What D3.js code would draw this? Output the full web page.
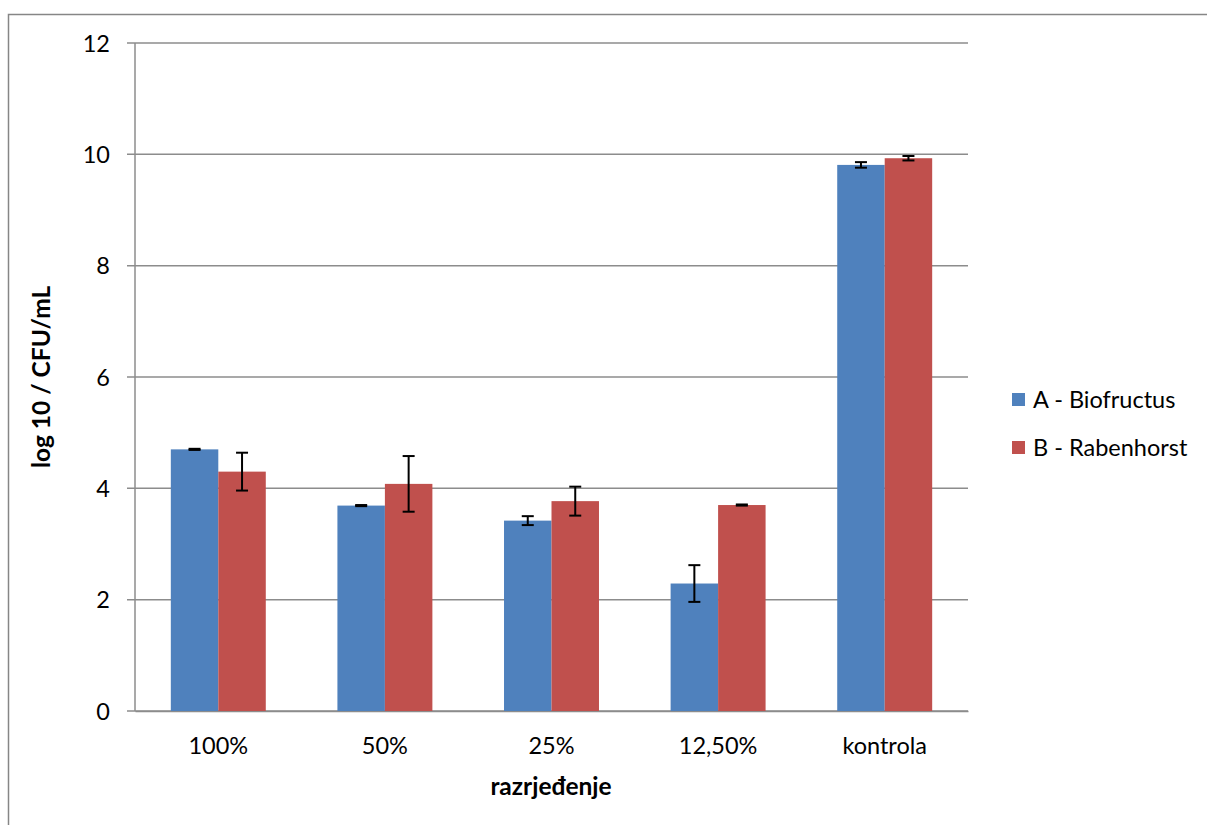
<!DOCTYPE html>
<html><head><meta charset="utf-8">
<script src="https://cdn.jsdelivr.net/npm/d3@7"></script>
<style>body{margin:0;background:#fff}svg{display:block}text{font-family:Lato,"Open Sans",sans-serif;fill:#000}</style>
</head><body><svg id="c" width="1207" height="825"></svg>
<script>
const categories = ["100%", "50%", "25%", "12,50%", "kontrola"];
const seriesNames = ["A - Biofructus", "B - Rabenhorst"];
const valuesA = [4.70, 3.69, 3.42, 2.29, 9.81];
const errorsA = [0.01, 0.01, 0.08, 0.33, 0.05];
const valuesB = [4.30, 4.08, 3.77, 3.70, 9.93];
const errorsB = [0.34, 0.50, 0.26, 0.01, 0.04];
const yTicks = [0, 2, 4, 6, 8, 10, 12];
const colors = ["#4F81BD", "#C0504D"];
const FS = 23.5;

const svg = d3.select("#c");
svg.append("rect").attr("x", 8.5).attr("y", 14.5).attr("width", 1210).attr("height", 830)
  .attr("fill", "none").attr("stroke", "#868686").attr("stroke-width", 1.5);

const L = 135, R = 968, T = 43, B = 711;
const x = d3.scaleBand().domain(categories).range([L, R]).paddingInner(0.43).paddingOuter(0.215);
const xs = d3.scaleBand().domain([0, 1]).range([0, x.bandwidth()]);
const y = d3.scaleLinear().domain([0, 12]).range([B, T]);

svg.append("g").selectAll("line").data(yTicks).join("line")
  .attr("x1", L - 8).attr("x2", R).attr("y1", d => y(d)).attr("y2", d => y(d))
  .attr("stroke", "#8c8c8c").attr("stroke-width", 1.5);
svg.append("line").attr("x1", L).attr("x2", L).attr("y1", T).attr("y2", B)
  .attr("stroke", "#8c8c8c").attr("stroke-width", 1.5);

const yAxis = d3.axisLeft(y).tickValues(yTicks).tickSize(0).tickPadding(25);
const gy = svg.append("g").attr("transform", `translate(${L},0)`).call(yAxis);
gy.select(".domain").remove();
gy.selectAll("text").attr("font-size", FS).attr("font-family", "Lato, sans-serif").attr("dy", "0.35em");

const xAxis = d3.axisBottom(x).tickSize(0).tickPadding(26);
const gx = svg.append("g").attr("transform", `translate(0,${B})`).call(xAxis);
gx.select(".domain").attr("stroke", "#8c8c8c").attr("stroke-width", 1.5);
gx.selectAll("text").attr("font-size", FS).attr("font-family", "Lato, sans-serif");

const data = categories.map((c, i) => ({c, v: [valuesA[i], valuesB[i]], e: [errorsA[i], errorsB[i]]}));
const groups = svg.append("g").selectAll("g").data(data).join("g")
  .attr("transform", d => `translate(${x(d.c)},0)`);
[0, 1].forEach(s => {
  groups.append("rect").attr("x", xs(s)).attr("width", xs.bandwidth())
    .attr("y", d => y(d.v[s])).attr("height", d => y(0) - y(d.v[s]))
    .attr("fill", colors[s]);
});
[0, 1].forEach(s => {
  const cx = xs(s) + xs.bandwidth() / 2;
  groups.append("line").attr("x1", cx).attr("x2", cx)
    .attr("y1", d => y(d.v[s] + d.e[s])).attr("y2", d => y(d.v[s] - d.e[s]))
    .attr("stroke", "#000").attr("stroke-width", 2);
  [1, -1].forEach(sg => {
    groups.append("line").attr("x1", cx - 6).attr("x2", cx + 6)
      .attr("y1", d => y(d.v[s] + sg * d.e[s])).attr("y2", d => y(d.v[s] + sg * d.e[s]))
      .attr("stroke", "#000").attr("stroke-width", 2);
  });
});

svg.append("text").attr("x", 551).attr("y", 795).attr("text-anchor", "middle")
  .attr("font-size", 24.5).attr("font-weight", "bold").text("razrjeđenje");
svg.append("text").attr("transform", `translate(50,${(T + B) / 2}) rotate(-90)`)
  .attr("text-anchor", "middle").attr("font-size", 24.5).attr("font-weight", "bold").text("log 10 / CFU/mL");

const leg = svg.append("g").selectAll("g").data(seriesNames).join("g")
  .attr("transform", (d, i) => `translate(1012,${393 + i * 48})`);
leg.append("rect").attr("width", 13).attr("height", 13).attr("fill", (d, i) => colors[i]);
leg.append("text").attr("x", 21).attr("y", 7).attr("dy", "0.35em").attr("font-size", FS).text(d => d);
</script></body></html>
